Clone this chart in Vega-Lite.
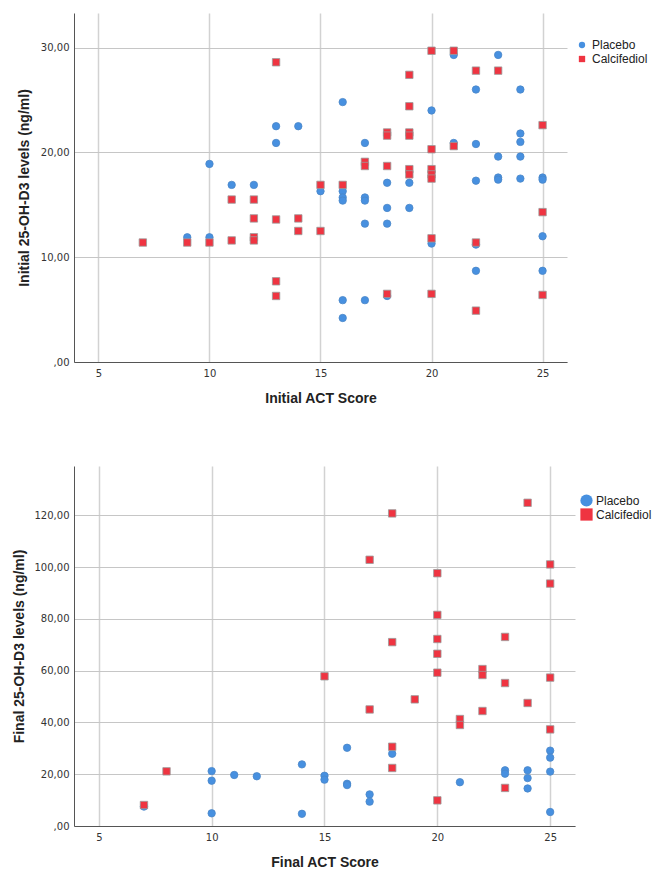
{
  "$schema": "https://vega.github.io/schema/vega-lite/v6.json",
  "padding": {"left": 12, "top": 13, "right": 0, "bottom": 0},
  "spacing": 61,
  "background": "white",
  "config": {
    "view": {"stroke": null},
    "font": "Liberation Sans",
    "axis": {
      "ticks": false,
      "labelFont": "DejaVu Sans",
      "labelFontSize": 10,
      "labelColor": "#333333",
      "titleFont": "Liberation Sans",
      "titleFontSize": 14,
      "titleFontWeight": "bold",
      "titleColor": "#222222",
      "domainColor": "#555555",
      "domainWidth": 1,
      "gridColor": "#cccccc"
    },
    "axisX": {"gridWidth": 1.5, "gridColor": "#d2d2d2", "labelPadding": 6, "titlePadding": 13},
    "axisY": {"gridWidth": 1, "gridColor": "#c6c6c6", "labelPadding": 5},
    "legend": {"labelFont": "Liberation Sans", "labelFontSize": 12, "labelColor": "#222222"}
  },
  "datasets": {
    "initial": [
      {"act": 9, "level": 11.9, "group": "Placebo"},
      {"act": 10, "level": 11.9, "group": "Placebo"},
      {"act": 10, "level": 18.9, "group": "Placebo"},
      {"act": 11, "level": 16.9, "group": "Placebo"},
      {"act": 12, "level": 16.9, "group": "Placebo"},
      {"act": 13, "level": 22.5, "group": "Placebo"},
      {"act": 13, "level": 20.9, "group": "Placebo"},
      {"act": 14, "level": 22.5, "group": "Placebo"},
      {"act": 15, "level": 16.3, "group": "Placebo"},
      {"act": 16, "level": 24.8, "group": "Placebo"},
      {"act": 16, "level": 16.3, "group": "Placebo"},
      {"act": 16, "level": 15.7, "group": "Placebo"},
      {"act": 16, "level": 15.4, "group": "Placebo"},
      {"act": 16, "level": 5.9, "group": "Placebo"},
      {"act": 16, "level": 4.2, "group": "Placebo"},
      {"act": 17, "level": 20.9, "group": "Placebo"},
      {"act": 17, "level": 15.7, "group": "Placebo"},
      {"act": 17, "level": 15.4, "group": "Placebo"},
      {"act": 17, "level": 13.2, "group": "Placebo"},
      {"act": 17, "level": 5.9, "group": "Placebo"},
      {"act": 18, "level": 17.1, "group": "Placebo"},
      {"act": 18, "level": 14.7, "group": "Placebo"},
      {"act": 18, "level": 13.2, "group": "Placebo"},
      {"act": 18, "level": 6.3, "group": "Placebo"},
      {"act": 19, "level": 17.1, "group": "Placebo"},
      {"act": 19, "level": 14.7, "group": "Placebo"},
      {"act": 20, "level": 24.0, "group": "Placebo"},
      {"act": 20, "level": 11.3, "group": "Placebo"},
      {"act": 21, "level": 29.3, "group": "Placebo"},
      {"act": 21, "level": 20.9, "group": "Placebo"},
      {"act": 22, "level": 26.0, "group": "Placebo"},
      {"act": 22, "level": 20.8, "group": "Placebo"},
      {"act": 22, "level": 17.3, "group": "Placebo"},
      {"act": 22, "level": 11.2, "group": "Placebo"},
      {"act": 22, "level": 8.7, "group": "Placebo"},
      {"act": 23, "level": 29.3, "group": "Placebo"},
      {"act": 23, "level": 19.6, "group": "Placebo"},
      {"act": 23, "level": 17.6, "group": "Placebo"},
      {"act": 23, "level": 17.4, "group": "Placebo"},
      {"act": 24, "level": 26.0, "group": "Placebo"},
      {"act": 24, "level": 21.8, "group": "Placebo"},
      {"act": 24, "level": 21.0, "group": "Placebo"},
      {"act": 24, "level": 19.6, "group": "Placebo"},
      {"act": 24, "level": 17.5, "group": "Placebo"},
      {"act": 25, "level": 17.6, "group": "Placebo"},
      {"act": 25, "level": 17.4, "group": "Placebo"},
      {"act": 25, "level": 12.0, "group": "Placebo"},
      {"act": 25, "level": 8.7, "group": "Placebo"},
      {"act": 7, "level": 11.4, "group": "Calcifediol"},
      {"act": 9, "level": 11.4, "group": "Calcifediol"},
      {"act": 10, "level": 11.4, "group": "Calcifediol"},
      {"act": 11, "level": 15.5, "group": "Calcifediol"},
      {"act": 11, "level": 11.6, "group": "Calcifediol"},
      {"act": 12, "level": 15.5, "group": "Calcifediol"},
      {"act": 12, "level": 13.7, "group": "Calcifediol"},
      {"act": 12, "level": 11.9, "group": "Calcifediol"},
      {"act": 12, "level": 11.6, "group": "Calcifediol"},
      {"act": 13, "level": 28.6, "group": "Calcifediol"},
      {"act": 13, "level": 13.6, "group": "Calcifediol"},
      {"act": 13, "level": 7.7, "group": "Calcifediol"},
      {"act": 13, "level": 6.3, "group": "Calcifediol"},
      {"act": 14, "level": 13.7, "group": "Calcifediol"},
      {"act": 14, "level": 12.5, "group": "Calcifediol"},
      {"act": 15, "level": 16.9, "group": "Calcifediol"},
      {"act": 15, "level": 12.5, "group": "Calcifediol"},
      {"act": 16, "level": 16.9, "group": "Calcifediol"},
      {"act": 17, "level": 19.1, "group": "Calcifediol"},
      {"act": 17, "level": 18.7, "group": "Calcifediol"},
      {"act": 18, "level": 21.9, "group": "Calcifediol"},
      {"act": 18, "level": 21.6, "group": "Calcifediol"},
      {"act": 18, "level": 18.7, "group": "Calcifediol"},
      {"act": 18, "level": 6.5, "group": "Calcifediol"},
      {"act": 19, "level": 27.4, "group": "Calcifediol"},
      {"act": 19, "level": 24.4, "group": "Calcifediol"},
      {"act": 19, "level": 21.9, "group": "Calcifediol"},
      {"act": 19, "level": 21.6, "group": "Calcifediol"},
      {"act": 19, "level": 18.4, "group": "Calcifediol"},
      {"act": 19, "level": 17.9, "group": "Calcifediol"},
      {"act": 20, "level": 29.7, "group": "Calcifediol"},
      {"act": 20, "level": 20.3, "group": "Calcifediol"},
      {"act": 20, "level": 18.4, "group": "Calcifediol"},
      {"act": 20, "level": 17.9, "group": "Calcifediol"},
      {"act": 20, "level": 17.5, "group": "Calcifediol"},
      {"act": 20, "level": 11.8, "group": "Calcifediol"},
      {"act": 20, "level": 6.5, "group": "Calcifediol"},
      {"act": 21, "level": 29.7, "group": "Calcifediol"},
      {"act": 21, "level": 20.6, "group": "Calcifediol"},
      {"act": 22, "level": 27.8, "group": "Calcifediol"},
      {"act": 22, "level": 11.4, "group": "Calcifediol"},
      {"act": 22, "level": 4.9, "group": "Calcifediol"},
      {"act": 23, "level": 27.8, "group": "Calcifediol"},
      {"act": 25, "level": 22.6, "group": "Calcifediol"},
      {"act": 25, "level": 14.3, "group": "Calcifediol"},
      {"act": 25, "level": 6.4, "group": "Calcifediol"}
    ],
    "final": [
      {"act": 7, "level": 7.5, "group": "Placebo"},
      {"act": 10, "level": 21.2, "group": "Placebo"},
      {"act": 10, "level": 17.5, "group": "Placebo"},
      {"act": 10, "level": 4.9, "group": "Placebo"},
      {"act": 11, "level": 19.7, "group": "Placebo"},
      {"act": 12, "level": 19.2, "group": "Placebo"},
      {"act": 14, "level": 23.8, "group": "Placebo"},
      {"act": 14, "level": 4.7, "group": "Placebo"},
      {"act": 15, "level": 19.4, "group": "Placebo"},
      {"act": 15, "level": 17.9, "group": "Placebo"},
      {"act": 16, "level": 30.2, "group": "Placebo"},
      {"act": 16, "level": 16.3, "group": "Placebo"},
      {"act": 16, "level": 15.8, "group": "Placebo"},
      {"act": 17, "level": 12.2, "group": "Placebo"},
      {"act": 17, "level": 9.4, "group": "Placebo"},
      {"act": 18, "level": 27.9, "group": "Placebo"},
      {"act": 21, "level": 16.9, "group": "Placebo"},
      {"act": 23, "level": 21.5, "group": "Placebo"},
      {"act": 23, "level": 20.2, "group": "Placebo"},
      {"act": 24, "level": 21.5, "group": "Placebo"},
      {"act": 24, "level": 18.5, "group": "Placebo"},
      {"act": 24, "level": 14.5, "group": "Placebo"},
      {"act": 25, "level": 29.1, "group": "Placebo"},
      {"act": 25, "level": 26.4, "group": "Placebo"},
      {"act": 25, "level": 21.0, "group": "Placebo"},
      {"act": 25, "level": 5.4, "group": "Placebo"},
      {"act": 7, "level": 8.1, "group": "Calcifediol"},
      {"act": 8, "level": 21.1, "group": "Calcifediol"},
      {"act": 15, "level": 57.8, "group": "Calcifediol"},
      {"act": 17, "level": 102.8, "group": "Calcifediol"},
      {"act": 17, "level": 45.0, "group": "Calcifediol"},
      {"act": 18, "level": 120.7, "group": "Calcifediol"},
      {"act": 18, "level": 71.0, "group": "Calcifediol"},
      {"act": 18, "level": 30.6, "group": "Calcifediol"},
      {"act": 18, "level": 22.4, "group": "Calcifediol"},
      {"act": 19, "level": 48.9, "group": "Calcifediol"},
      {"act": 20, "level": 97.6, "group": "Calcifediol"},
      {"act": 20, "level": 81.5, "group": "Calcifediol"},
      {"act": 20, "level": 72.2, "group": "Calcifediol"},
      {"act": 20, "level": 66.5, "group": "Calcifediol"},
      {"act": 20, "level": 59.2, "group": "Calcifediol"},
      {"act": 20, "level": 9.9, "group": "Calcifediol"},
      {"act": 21, "level": 41.3, "group": "Calcifediol"},
      {"act": 21, "level": 39.0, "group": "Calcifediol"},
      {"act": 22, "level": 60.6, "group": "Calcifediol"},
      {"act": 22, "level": 58.3, "group": "Calcifediol"},
      {"act": 22, "level": 44.4, "group": "Calcifediol"},
      {"act": 23, "level": 73.0, "group": "Calcifediol"},
      {"act": 23, "level": 55.2, "group": "Calcifediol"},
      {"act": 23, "level": 14.7, "group": "Calcifediol"},
      {"act": 24, "level": 124.8, "group": "Calcifediol"},
      {"act": 24, "level": 47.5, "group": "Calcifediol"},
      {"act": 25, "level": 101.0, "group": "Calcifediol"},
      {"act": 25, "level": 93.6, "group": "Calcifediol"},
      {"act": 25, "level": 57.3, "group": "Calcifediol"},
      {"act": 25, "level": 37.3, "group": "Calcifediol"}
    ]
  },
  "vconcat": [
    {
      "width": 493,
      "height": 349,
      "data": {"name": "initial"},
      "mark": {"type": "point", "filled": true, "opacity": 1, "strokeWidth": 0.8},
      "encoding": {
        "x": {
          "field": "act", "type": "quantitative",
          "scale": {"domain": [3.9, 26.1], "nice": false, "zero": false},
          "axis": {"values": [5, 10, 15, 20, 25], "title": "Initial ACT Score"}
        },
        "y": {
          "field": "level", "type": "quantitative",
          "scale": {"domain": [0, 33.3], "nice": false},
          "axis": {
            "values": [0, 10, 20, 30],
            "title": "Initial 25-OH-D3 levels (ng/ml)",
            "titlePadding": 9,
            "labelExpr": "datum.value == 0 ? ',00' : replace(format(datum.value, '.2f'), '.', ',')"
          }
        },
        "color": {
          "field": "group", "type": "nominal",
          "scale": {"domain": ["Placebo", "Calcifediol"], "range": ["#4790E0", "#EF3441"]},
          "legend": {"title": null, "orient": "none", "legendX": 502, "legendY": 26, "padding": 0, "symbolSize": 40, "labelOffset": 4, "rowPadding": 2, "symbolStrokeWidth": 0}
        },
        "shape": {
          "field": "group", "type": "nominal",
          "scale": {"domain": ["Placebo", "Calcifediol"], "range": ["circle", "square"]},
          "legend": {"title": null, "orient": "none", "legendX": 502, "legendY": 26, "padding": 0, "symbolSize": 40, "labelOffset": 4, "rowPadding": 2, "symbolStrokeWidth": 0}
        },
        "stroke": {
          "field": "group", "type": "nominal",
          "scale": {"domain": ["Placebo", "Calcifediol"], "range": ["#4a86c8", "#9a9a9a"]},
          "legend": null
        },
        "size": {"value": 55}
      }
    },
    {
      "width": 501,
      "height": 360,
      "data": {"name": "final"},
      "mark": {"type": "point", "filled": true, "opacity": 1, "strokeWidth": 0.8},
      "encoding": {
        "x": {
          "field": "act", "type": "quantitative",
          "scale": {"domain": [3.9, 26.1], "nice": false, "zero": false},
          "axis": {"values": [5, 10, 15, 20, 25], "title": "Final ACT Score"}
        },
        "y": {
          "field": "level", "type": "quantitative",
          "scale": {"domain": [0, 139], "nice": false},
          "axis": {
            "values": [0, 20, 40, 60, 80, 100, 120],
            "title": "Final 25-OH-D3 levels (ng/ml)",
            "titlePadding": 8,
            "labelExpr": "datum.value == 0 ? ',00' : replace(format(datum.value, '.2f'), '.', ',')"
          }
        },
        "color": {
          "field": "group", "type": "nominal",
          "scale": {"domain": ["Placebo", "Calcifediol"], "range": ["#4790E0", "#EF3441"]},
          "legend": {"title": null, "orient": "none", "legendX": 506, "legendY": 28, "padding": 0, "symbolSize": 150, "labelOffset": 3, "rowPadding": 1, "symbolStrokeWidth": 0}
        },
        "shape": {
          "field": "group", "type": "nominal",
          "scale": {"domain": ["Placebo", "Calcifediol"], "range": ["circle", "square"]},
          "legend": {"title": null, "orient": "none", "legendX": 506, "legendY": 28, "padding": 0, "symbolSize": 150, "labelOffset": 3, "rowPadding": 1, "symbolStrokeWidth": 0}
        },
        "stroke": {
          "field": "group", "type": "nominal",
          "scale": {"domain": ["Placebo", "Calcifediol"], "range": ["#4a86c8", "#9a9a9a"]},
          "legend": null
        },
        "size": {"value": 55}
      }
    }
  ],
  "resolve": {
    "scale": {"color": "independent", "shape": "independent", "stroke": "independent"},
    "legend": {"color": "independent", "shape": "independent"}
  }
}
